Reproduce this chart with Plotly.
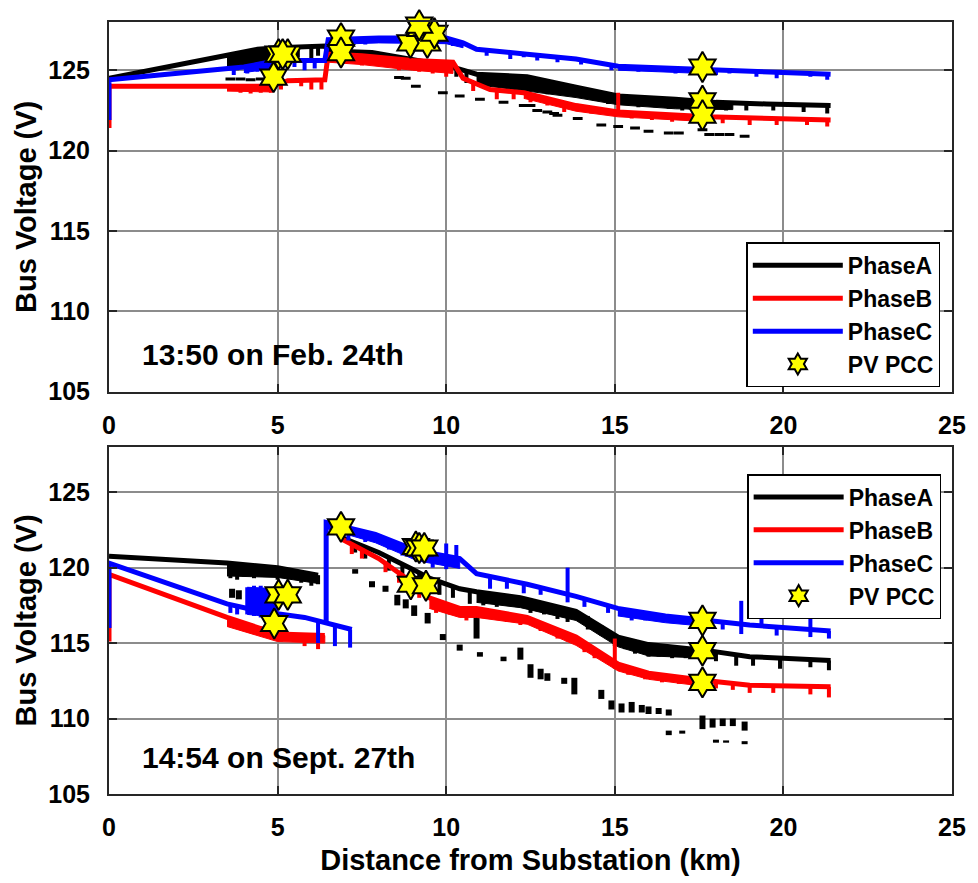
import plotly.graph_objects as go

FONT = "Liberation Sans, Arial, sans-serif"
BLACK, RED, BLUE, STAR = "#000000", "#ff0000", "#0000ff", "#ffff00"

# ---------------- 13:50 on Feb. 24th (top) ----------------
feb_a_x = [0, 3.5, 4.4, 5.0, 6.4, 6.5, 7.8, 8.9, 10.1, 10.9, 12.4, 13.85, 15.1, 16.8, 18.0, 19.5, 21.4]
feb_a_y = [124.5, 125.9, 126.3, 126.4, 126.5, 126.2, 126.1, 125.7, 125.25, 124.75, 124.6, 123.95, 123.4, 123.2, 123.0, 122.9, 122.8]
feb_a_spikes = [(3.6, 125.9, 125.2), (3.8, 125.95, 125.0), (4.0, 126.0, 125.1), (4.2, 126.1, 125.3),
                (4.5, 126.3, 125.6), (5.2, 126.4, 125.6), (5.6, 126.45, 125.8), (6.0, 126.5, 125.7),
                (6.2, 126.5, 125.9), (7.6, 126.1, 125.6), (8.2, 125.9, 125.4), (8.5, 125.8, 125.4),
                (9.6, 125.5, 124.9), (10.3, 125.2, 124.6), (10.6, 125.0, 124.2), (11.2, 124.7, 124.0),
                (11.6, 124.65, 124.0), (12.0, 124.6, 123.9), (12.6, 124.5, 123.7), (13.0, 124.3, 123.5),
                (13.4, 124.1, 123.6), (14.0, 123.9, 123.3), (14.4, 123.7, 123.1), (14.8, 123.5, 122.9),
                (15.3, 123.4, 122.9), (15.7, 123.3, 122.7), (16.2, 123.25, 122.7), (16.6, 123.2, 122.6),
                (17.0, 123.15, 122.5), (17.3, 123.1, 122.6), (17.8, 123.0, 122.4), (18.3, 123.0, 122.5),
                (18.9, 122.95, 122.5), (19.7, 122.9, 122.5), (20.6, 122.85, 122.4), (21.3, 122.8, 122.3)]
feb_a_band = [([3.5, 4.4, 5.0], [125.9, 126.3, 126.4], [125.1, 125.5, 125.7]),
              ([10.9, 12.4, 13.85, 15.1, 16.8, 18.5], [124.75, 124.6, 123.95, 123.4, 123.2, 123.0],
               [124.1, 123.7, 123.3, 122.85, 122.6, 122.55])]
feb_a_lat_x = [3.6, 3.9, 4.2, 4.5, 8.6, 8.8, 9.1, 9.9, 10.4, 11.0, 11.7, 12.3, 12.5, 12.7, 13.0, 13.2, 13.3,
               13.9, 14.6, 15.1, 15.6, 16.0, 16.6, 16.9, 17.6, 17.8, 18.1, 18.4, 18.85]
feb_a_lat_y = [124.45, 124.45, 124.4, 124.45, 124.55, 124.5, 124.0, 123.6, 123.4, 123.2, 123.0, 122.8, 122.8,
               122.5, 122.4, 122.3, 122.2, 122.0, 121.6, 121.5, 121.4, 121.2, 121.1, 121.1, 121.3, 121.0,
               121.0, 121.0, 120.9]

feb_b_x = [0, 0, 4.8, 5.3, 6.4, 6.5, 7.5, 9.0, 10.2, 10.5, 11.3, 12.3, 13.85, 15.1, 17.76, 21.4]
feb_b_y = [121.4, 124.0, 124.0, 124.35, 124.4, 126.0, 125.9, 125.6, 125.5, 124.5, 123.8, 123.6, 122.8, 122.4, 122.1, 121.9]
feb_b_spikes = [(3.6, 124.0, 123.7), (3.9, 124.0, 123.6), (4.2, 124.0, 123.55), (4.5, 124.0, 123.6),
                (4.8, 124.0, 123.6), (5.1, 124.3, 123.8), (5.7, 124.4, 124.0), (6.0, 124.4, 123.8),
                (6.3, 124.4, 123.8), (7.0, 126.0, 125.6), (7.5, 125.9, 125.3), (8.0, 125.8, 125.3),
                (8.6, 125.7, 125.0), (9.2, 125.6, 124.9), (9.6, 125.55, 124.8), (10.0, 125.5, 124.6),
                (10.8, 124.2, 123.7), (11.5, 123.8, 123.2), (12.0, 123.7, 123.2), (12.5, 123.55, 123.0),
                (13.0, 123.3, 122.8), (13.5, 123.0, 122.4), (14.3, 122.7, 122.3), (14.9, 122.5, 122.2),
                (15.1, 123.6, 122.4), (15.5, 122.35, 122.0), (16.1, 122.3, 121.9), (16.7, 122.2, 121.8),
                (17.3, 122.15, 121.85), (18.2, 122.05, 121.7), (19.0, 122.0, 121.6), (19.8, 121.95, 121.6),
                (20.7, 121.9, 121.6), (21.3, 121.9, 121.5)]
feb_b_band = [([3.5, 4.8], [124.0, 124.0], [123.7, 123.65]),
              ([6.5, 7.5, 9.0, 10.2], [126.0, 125.9, 125.6, 125.5], [125.5, 125.35, 125.0, 124.8]),
              ([12.3, 13.85, 15.1, 17.76], [123.6, 122.8, 122.4, 122.1], [123.25, 122.45, 122.1, 121.8])]

feb_c_x = [0, 0, 4.0, 5.0, 6.4, 6.5, 8.0, 10.0, 10.5, 10.9, 12.4, 13.85, 15.1, 17.6, 21.4]
feb_c_y = [121.9, 124.4, 125.2, 125.6, 125.6, 126.9, 127.0, 127.0, 126.7, 126.3, 126.0, 125.7, 125.25, 125.05, 124.75]
feb_c_spikes = [(3.7, 125.1, 124.7), (4.1, 125.2, 124.8), (4.4, 125.4, 124.9), (4.6, 125.5, 125.0),
                (5.5, 125.6, 125.2), (5.8, 125.6, 125.0), (6.1, 125.6, 125.1), (7.2, 127.0, 126.5),
                (7.6, 127.0, 126.6), (8.8, 127.0, 126.7), (9.5, 127.0, 126.6), (10.2, 126.9, 126.5),
                (11.2, 126.2, 125.9), (11.9, 126.1, 125.7), (12.3, 126.0, 125.8), (12.7, 125.95, 125.6),
                (13.3, 125.8, 125.5), (14.0, 125.65, 125.35), (14.9, 125.3, 125.0), (15.7, 125.2, 124.9),
                (16.2, 125.15, 124.9), (16.8, 125.1, 124.8), (17.2, 125.1, 124.9), (18.0, 125.0, 124.7),
                (18.4, 125.0, 124.8), (19.2, 124.9, 124.6), (19.8, 124.85, 124.5), (20.8, 124.8, 124.6),
                (21.3, 124.75, 124.4)]
feb_c_band = [([4.0, 5.0], [125.2, 125.6], [124.85, 125.15]),
              ([6.5, 8.0, 10.0, 10.5], [126.9, 127.0, 127.0, 126.7], [126.6, 126.7, 126.65, 126.4]),
              ([15.1, 17.6], [125.25, 125.05], [125.0, 124.8])]

feb_pv_x = [4.88, 5.03, 5.3, 5.15, 6.88, 6.88, 8.94, 9.24, 9.44, 9.65, 9.2, 17.6, 17.6, 17.6]
feb_pv_y = [124.57, 126.0, 126.0, 126.0, 127.0, 126.1, 126.7, 127.6, 126.7, 127.3, 127.8, 125.2, 123.1, 122.2]

# ---------------- 14:54 on Sept. 27th (bottom) ----------------
sep_a_x = [0, 3.5, 5.0, 6.2, None, 6.9, 8.0, 9.0, 9.5, 10.4, 10.9, 12.2, 13.85, 15.1, 16.0, 17.76, 19.0, 21.4]
sep_a_y = [120.75, 120.3, 120.0, 119.5, None, 122.0, 121.0, 119.9, 119.3, 118.6, 118.4, 118.0, 117.1, 115.4,
           114.9, 114.5, 114.1, 113.85]
sep_a_spikes = [(3.6, 120.3, 119.3), (3.8, 120.25, 119.2), (4.0, 120.2, 119.4), (4.3, 120.15, 119.3),
                (4.6, 120.1, 119.5), (5.0, 120.0, 119.2), (5.3, 119.95, 119.3), (5.7, 119.8, 119.0),
                (6.0, 119.6, 118.8), (6.2, 119.5, 118.9), (7.3, 121.7, 121.0), (7.6, 121.4, 120.6),
                (8.3, 120.7, 119.8), (8.7, 120.3, 119.2), (9.2, 119.7, 118.8), (9.8, 119.1, 118.2),
                (10.2, 118.8, 118.0), (10.7, 118.5, 117.6), (11.1, 118.35, 117.5), (11.5, 118.2, 117.4),
                (12.0, 118.05, 117.5), (12.5, 117.9, 117.0), (12.9, 117.7, 116.9), (13.3, 117.5, 116.6),
                (13.6, 117.3, 116.4), (14.2, 116.8, 115.9), (14.6, 116.2, 115.5), (15.0, 115.5, 114.8),
                (15.3, 115.3, 114.6), (15.6, 115.1, 114.3), (16.0, 114.9, 114.1), (16.3, 114.8, 114.1),
                (16.7, 114.7, 114.0), (17.1, 114.6, 114.0), (17.4, 114.55, 114.0), (18.0, 114.45, 113.8),
                (18.6, 114.3, 113.5), (19.1, 114.1, 113.5), (19.9, 114.0, 113.3), (20.8, 113.9, 113.4),
                (21.35, 113.85, 113.2)]
sep_a_band = [([3.5, 5.0, 6.2], [120.3, 120.0, 119.5], [119.45, 119.35, 118.95]),
              ([10.9, 12.2, 13.85, 15.1, 16.0, 17.76], [118.4, 118.0, 117.1, 115.4, 114.9, 114.5],
               [117.7, 117.35, 116.5, 114.75, 114.15, 114.0])]
sep_a_laterals = [(3.65, 118.6, 118.0), (3.85, 118.5, 117.9), (7.3, 119.9, 119.6), (7.8, 119.1, 118.7),
                  (8.2, 118.8, 118.4), (8.55, 118.2, 117.5), (8.8, 117.9, 117.3), (9.05, 117.5, 116.8),
                  (9.45, 117.0, 116.3), (9.9, 115.6, 115.2), (10.4, 114.9, 114.5), (10.9, 116.9, 115.3),
                  (11.0, 114.4, 114.1), (11.7, 114.1, 113.8), (12.2, 114.7, 113.9), (12.5, 113.6, 112.7),
                  (12.8, 113.3, 112.6), (13.0, 113.0, 112.5), (13.5, 112.7, 112.3), (13.8, 112.7, 111.6),
                  (14.6, 111.9, 111.3), (14.9, 111.2, 110.6), (15.2, 111.0, 110.4), (15.5, 111.1, 110.4),
                  (15.8, 110.9, 110.4), (16.0, 110.8, 110.3), (16.3, 110.7, 110.3), (16.6, 110.6, 110.2),
                  (16.6, 109.2, 108.9), (17.0, 109.2, 109.0), (17.6, 110.2, 109.3), (17.9, 110.0, 109.4),
                  (18.2, 110.0, 109.5), (18.5, 110.0, 109.5), (18.0, 108.6, 108.4), (18.3, 108.55, 108.4),
                  (18.85, 109.8, 109.2), (18.85, 108.5, 108.3)]

sep_b_x = [0, 0, 3.5, 5.0, 6.4, None, 6.9, 8.0, 9.0, 9.5, 10.4, 10.9, 12.4, 13.85, 15.1, 16.0, 17.76, 19.0, 21.4]
sep_b_y = [115.1, 119.55, 116.7, 115.6, 115.5, None, 121.9, 120.6, 119.0, 118.0, 117.3, 117.3, 116.7, 115.4,
           113.6, 113.0, 112.5, 112.2, 112.1]
sep_b_spikes = [(3.6, 116.65, 116.1), (3.9, 116.5, 115.9), (4.2, 116.3, 115.7), (4.5, 116.1, 115.5),
                (4.8, 115.9, 115.3), (5.1, 115.6, 115.1), (5.4, 115.6, 115.2), (5.8, 115.55, 114.8),
                (6.2, 115.5, 114.6), (7.2, 121.5, 120.9), (7.5, 121.3, 120.6), (8.2, 120.4, 119.7),
                (8.6, 119.8, 119.0), (9.2, 118.8, 118.0), (9.7, 117.8, 117.0), (10.1, 117.5, 116.9),
                (10.6, 117.3, 116.5), (11.2, 117.2, 116.6), (11.8, 117.0, 116.4), (12.2, 116.8, 116.2),
                (12.8, 116.4, 115.8), (13.3, 116.0, 115.3), (13.6, 115.7, 115.1), (14.1, 115.0, 114.4),
                (14.4, 114.6, 114.0), (15.0, 115.3, 113.3), (15.4, 113.4, 112.9), (15.9, 113.05, 112.6),
                (16.4, 112.8, 112.4), (16.9, 112.7, 112.3), (17.3, 112.6, 112.1), (18.0, 112.45, 112.0),
                (18.5, 112.4, 111.9), (19.0, 112.2, 111.7), (19.7, 112.15, 111.7), (20.8, 112.1, 111.6),
                (21.35, 112.1, 111.4)]
sep_b_band = [([3.5, 5.0, 6.4], [116.7, 115.6, 115.5], [116.1, 115.1, 115.0]),
              ([9.5, 10.4, 10.9, 12.4, 13.85, 15.1, 16.0, 17.76], [118.0, 117.3, 117.3, 116.7, 115.4, 113.6, 113.0, 112.5],
               [117.3, 116.7, 116.7, 116.25, 114.85, 113.15, 112.6, 112.1])]

sep_c_x = [0, 0, 3.5, 4.5, 5.8, 6.44, 7.2, None, 6.44, 6.44, 7.9, 9.15, 10.4, 10.9, 12.4, 13.85, 15.09,
           16.5, 17.76, 19.0, 21.4]
sep_c_y = [116.0, 120.3, 117.6, 117.1, 116.7, 116.3, 115.9, None, 116.3, 123.0, 122.2, 121.1, 120.6, 119.6,
           118.9, 118.1, 117.3, 116.8, 116.5, 116.2, 115.8]
sep_c_spikes = [(3.6, 117.6, 117.0), (3.8, 117.5, 116.9), (4.1, 118.7, 116.9), (4.3, 118.8, 116.8),
                (4.5, 118.8, 116.7), (4.7, 118.7, 116.8), (4.9, 118.6, 116.7), (6.2, 116.4, 115.0),
                (6.7, 116.1, 114.8), (7.15, 115.9, 114.7), (7.1, 122.6, 121.8), (7.6, 122.4, 121.7),
                (8.3, 121.9, 121.2), (8.7, 121.6, 120.8), (9.6, 120.9, 120.0), (10.0, 121.6, 119.9),
                (10.3, 121.5, 120.0), (11.3, 119.4, 118.6), (11.8, 119.2, 118.6), (12.3, 119.0, 118.3),
                (12.8, 118.7, 118.2), (13.6, 120.0, 117.7), (14.1, 117.9, 117.4), (14.8, 117.5, 117.0),
                (15.5, 117.1, 116.5), (15.9, 117.0, 116.5), (16.2, 116.9, 116.5), (16.7, 116.8, 116.4),
                (17.1, 116.7, 116.3), (17.5, 116.6, 116.2), (18.2, 116.4, 115.9), (18.75, 117.8, 115.6),
                (19.35, 117.9, 116.0), (19.8, 116.2, 115.5), (20.8, 117.6, 115.4), (21.35, 115.8, 115.3)]
sep_c_band = [([4.1, 5.0], [118.7, 118.6], [116.9, 116.7]),
              ([6.44, 7.9, 9.15, 10.4], [123.0, 122.2, 121.1, 120.6], [122.6, 121.65, 120.45, 119.95]),
              ([15.09, 16.5, 17.76], [117.3, 116.8, 116.5], [116.8, 116.35, 116.1])]

sep_pv_x = [6.88, 9.1, 9.2, 9.35, 8.95, 9.4, 5.03, 5.3, 4.9, 17.6, 17.6, 17.6]
sep_pv_y = [122.7, 121.4, 121.3, 121.3, 118.9, 118.8, 118.2, 118.2, 116.3, 116.5, 114.5, 112.4]

annot_top = "13:50 on Feb. 24th"
annot_bot = "14:54 on Sept. 27th"
y_ticks = [105, 110, 115, 120, 125]
x_ticks = [0, 5, 10, 15, 20, 25]


def segs(spikes):
    xs, ys = [], []
    for x, hi, lo in spikes:
        xs += [x, x, None]
        ys += [hi, lo, None]
    return xs, ys


def bands(blist):
    xs, ys = [], []
    for bx, hi, lo in blist:
        xs += list(bx) + list(bx)[::-1] + [None]
        ys += list(hi) + list(lo)[::-1] + [None]
    return xs, ys


fig = go.Figure()


def add_phase(xa, ya, leg, name, color, mx, my, spikes, band):
    bx, by = bands(band)
    fig.add_trace(go.Scatter(x=bx, y=by, mode="lines", fill="toself", fillcolor=color,
                             line=dict(color=color, width=1), xaxis=xa, yaxis=ya,
                             showlegend=False, hoverinfo="skip"))
    sx, sy = segs(spikes)
    fig.add_trace(go.Scatter(x=sx, y=sy, mode="lines", line=dict(color=color, width=4),
                             xaxis=xa, yaxis=ya, showlegend=False, hoverinfo="skip"))
    fig.add_trace(go.Scatter(x=mx, y=my, mode="lines", name=name, line=dict(color=color, width=5),
                             xaxis=xa, yaxis=ya, legend=leg, showlegend=True))


def add_panel(xa, ya, leg, a, alat, b, c, pv):
    add_phase(xa, ya, leg, "PhaseA", BLACK, *a)
    if alat[0] == "pts":
        fig.add_trace(go.Scatter(x=alat[1], y=alat[2], mode="markers",
                                 marker=dict(symbol="line-ew", size=7, line=dict(color=BLACK, width=3)),
                                 xaxis=xa, yaxis=ya, showlegend=False, hoverinfo="skip"))
    else:
        lx, ly = segs(alat[1])
        fig.add_trace(go.Scatter(x=lx, y=ly, mode="lines", line=dict(color=BLACK, width=6),
                                 xaxis=xa, yaxis=ya, showlegend=False, hoverinfo="skip"))
    add_phase(xa, ya, leg, "PhaseB", RED, *b)
    add_phase(xa, ya, leg, "PhaseC", BLUE, *c)
    fig.add_trace(go.Scatter(x=pv[0], y=pv[1], mode="markers", name="PV PCC",
                             marker=dict(symbol="hexagram", size=23, color=STAR,
                                         line=dict(color=BLACK, width=2)),
                             cliponaxis=False, xaxis=xa, yaxis=ya, legend=leg, showlegend=True))


add_panel("x", "y", "legend",
          (feb_a_x, feb_a_y, feb_a_spikes, feb_a_band), ("pts", feb_a_lat_x, feb_a_lat_y),
          (feb_b_x, feb_b_y, feb_b_spikes, feb_b_band),
          (feb_c_x, feb_c_y, feb_c_spikes, feb_c_band),
          (feb_pv_x, feb_pv_y))
add_panel("x2", "y2", "legend2",
          (sep_a_x, sep_a_y, sep_a_spikes, sep_a_band), ("segs", sep_a_laterals),
          (sep_b_x, sep_b_y, sep_b_spikes, sep_b_band),
          (sep_c_x, sep_c_y, sep_c_spikes, sep_c_band),
          (sep_pv_x, sep_pv_y))

tickfont = dict(family=FONT, size=25, color="black", weight="bold")
titlefont = dict(family=FONT, size=29, color="black", weight="bold")
common_x = dict(range=[0, 25], tickvals=x_ticks, showgrid=True, gridcolor="#8c8c8c", gridwidth=2,
                zeroline=False, showline=True, linecolor="#262626", linewidth=2, mirror="ticks",
                ticks="inside", ticklen=8, tickwidth=2, tickcolor="#262626", tickfont=tickfont,
                ticklabelstandoff=10)
common_y = dict(range=[105, 128], tickvals=y_ticks, showgrid=True, gridcolor="#8c8c8c", gridwidth=2,
                zeroline=False, showline=True, linecolor="#262626", linewidth=2, mirror="ticks",
                ticks="inside", ticklen=8, tickwidth=2, tickcolor="#262626", tickfont=tickfont,
                ticklabelstandoff=12, title=dict(text="Bus Voltage (V)", font=titlefont, standoff=3))

legend_style = dict(bgcolor="white", bordercolor="black", borderwidth=1.5, xanchor="left", yanchor="top",
                    font=dict(family=FONT, size=23, color="black", weight="bold"), itemwidth=90)

fig.update_layout(
    width=978, height=883, plot_bgcolor="white", paper_bgcolor="white",
    margin=dict(l=109, r=16, t=22, b=78),
    xaxis=dict(domain=[0, 1], anchor="y", **common_x),
    yaxis=dict(domain=[0.5211, 1], anchor="x", **common_y),
    xaxis2=dict(domain=[0, 1], anchor="y2",
                title=dict(text="Distance from Substation (km)", font=titlefont, standoff=10), **common_x),
    yaxis2=dict(domain=[0, 0.4496], anchor="x2", **common_y),
    legend=dict(x=0.756, y=0.7145, **legend_style),
    legend2=dict(x=0.757, y=0.4145, **legend_style),
    annotations=[
        dict(text=annot_top, xref="x domain", yref="y domain", x=0.0363, y=0.101, xanchor="left",
             yanchor="middle", showarrow=False, font=dict(family=FONT, size=30, color="black", weight="bold")),
        dict(text=annot_bot, xref="x2 domain", yref="y2 domain", x=0.0363, y=0.1065, xanchor="left",
             yanchor="middle", showarrow=False, font=dict(family=FONT, size=30, color="black", weight="bold")),
    ],
)

fig.write_html("out.html")
